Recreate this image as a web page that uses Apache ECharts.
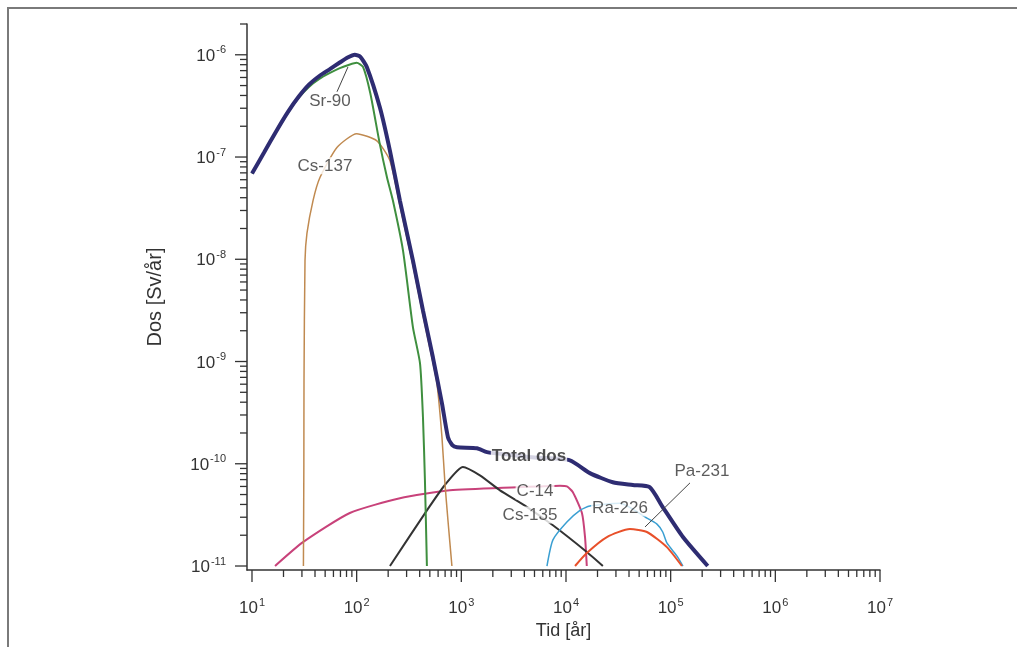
<!DOCTYPE html>
<html>
<head>
<meta charset="utf-8">
<script src="https://cdn.jsdelivr.net/npm/echarts@6/dist/echarts.min.js"></script>
<style>
html,body{margin:0;padding:0;background:#fff;}
#chart{width:1017px;height:647px;}
</style>
</head>
<body>
<div id="chart"></div>
<script>
// ---- Data (time in years, dose in Sv/year) ----
const totalT = [10, 13, 17, 22, 28, 35, 44, 55, 69, 82, 96, 108, 125, 167, 208, 259, 345, 430, 535, 653, 745, 820, 908, 1410, 1760, 3000, 5000, 10900, 16900, 28000, 43500, 63000, 84000, 131000, 226000];
const totalD = [6.9e-8, 1.1e-7, 1.78e-7, 2.75e-7, 3.9e-7, 5.1e-7, 6.2e-7, 7.2e-7, 8.4e-7, 9.4e-7, 1.0e-6, 9.6e-7, 7.6e-7, 3.03e-7, 1.15e-7, 3.75e-8, 9.7e-9, 3.16e-9, 1.1e-9, 3.9e-10, 1.82e-10, 1.52e-10, 1.45e-10, 1.42e-10, 1.3e-10, 1.22e-10, 1.15e-10, 1.08e-10, 8.1e-11, 6.6e-11, 6.2e-11, 5.9e-11, 3.77e-11, 1.92e-11, 1.0e-11];

const sr90T = [10, 13, 17, 22, 28, 35, 44, 55, 69, 85, 100, 115, 135, 165, 195, 222, 277, 345, 403, 430, 449, 469];
const sr90D = [6.9e-8, 1.1e-7, 1.76e-7, 2.7e-7, 3.8e-7, 4.85e-7, 5.8e-7, 6.6e-7, 7.4e-7, 8.0e-7, 8.35e-7, 7.6e-7, 4.2e-7, 1.4e-7, 6.3e-8, 3.75e-8, 1.22e-8, 2.16e-9, 9.6e-10, 2.85e-10, 6.9e-11, 1.0e-11];

const cs137T = [31, 31.3, 31.4, 32.1, 33.5, 38.3, 44.6, 64.8, 100, 156, 208, 259, 345, 430, 535, 585, 653, 697, 745, 813];
const cs137D = [1.0e-11, 1.0e-10, 6.5e-10, 9.7e-9, 1.79e-8, 3.75e-8, 6.3e-8, 1.24e-7, 1.69e-7, 1.44e-7, 9.2e-8, 3.35e-8, 8.7e-9, 2.83e-9, 9.8e-10, 6.1e-10, 1.82e-10, 6.5e-11, 2.8e-11, 1.0e-11];

const c14T = [16.6, 30.7, 86, 259, 778, 3400, 5500, 8750, 10200, 11600, 14200, 15200, 15800];
const c14D = [1.0e-11, 1.71e-11, 3.3e-11, 4.6e-11, 5.5e-11, 5.9e-11, 6.0e-11, 6.1e-11, 6.0e-11, 5.3e-11, 3.3e-11, 1.92e-11, 1.0e-11];

const cs135T = [208, 469, 697, 1035, 1505, 2340, 4050, 7500, 15800, 22500];
const cs135D = [1.0e-11, 3.5e-11, 6.2e-11, 9.3e-11, 7.7e-11, 5.5e-11, 3.9e-11, 2.5e-11, 1.37e-11, 1.0e-11];

const ra226T = [6580, 7500, 10200, 13600, 16900, 32700, 59300, 74000, 84000, 92000, 115000, 131000];
const ra226D = [1.0e-11, 1.8e-11, 2.69e-11, 3.5e-11, 3.86e-11, 4.1e-11, 2.94e-11, 2.57e-11, 2.15e-11, 1.68e-11, 1.25e-11, 1.0e-11];

const pa231T = [12200, 15800, 24600, 40800, 59300, 92000, 128000];
const pa231D = [1.0e-11, 1.34e-11, 1.92e-11, 2.3e-11, 2.15e-11, 1.53e-11, 1.0e-11];

// Series labels: [text, time, dose]
const labelNames = ['Sr-90', 'Cs-137', 'Total dos', 'C-14', 'Cs-135', 'Ra-226', 'Pa-231'];
const labelT = [55.6, 49.8, 4430, 5060, 4530, 32800, 199000];
const labelD = [3.47e-7, 8.2e-8, 1.19e-10, 5.42e-11, 3.15e-11, 3.69e-11, 8.5e-11];

// Leader lines
const sr90LeaderT = [64.9, 82.6];
const sr90LeaderD = [4.35e-7, 7.6e-7];
const pa231LeaderT = [153000, 56900];
const pa231LeaderD = [6.5e-11, 2.41e-11];

// Axes
const X_MIN = 8.96, X_MAX = 1e7;
const Y_MIN = 9.14e-12, Y_MAX = 2e-6;
const xDecades = [10, 100, 1000, 1e4, 1e5, 1e6, 1e7];
const yDecades = [1e-11, 1e-10, 1e-9, 1e-8, 1e-7, 1e-6];
const minorMultipliers = [2, 3, 4, 5, 6, 7, 8, 9];
const xAxisName = 'Tid [år]';
const yAxisName = 'Dos [Sv/år]';

function zip(a, b) { return a.map((v, i) => [v, b[i]]); }

// tick marks (axis decoration)
const xTickData = [];
xDecades.forEach((d, i) => {
  xTickData.push([d, Y_MIN, 12]);
  if (i < xDecades.length - 1) minorMultipliers.forEach(m => xTickData.push([d * m, Y_MIN, 7]));
});
const yTickData = [];
yDecades.forEach((d, i) => {
  yTickData.push([X_MIN, d, 12]);
  if (i < yDecades.length - 1) minorMultipliers.forEach(m => yTickData.push([X_MIN, d * m, 7]));
});
yTickData.push([X_MIN, Y_MAX, 7]);

function powLabel(v) {
  const e = Math.log10(v);
  const r = Math.round(e);
  if (Math.abs(e - r) > 0.01) return '';
  return '{b|10}{s|' + r + '}';
}

const richStyle = {
  b: { fontSize: 17, fontFamily: 'Liberation Sans', color: '#333', verticalAlign: 'bottom' },
  s: { fontSize: 11, fontFamily: 'Liberation Sans', color: '#333', verticalAlign: 'bottom', padding: [0, 0, 9, 1] }
};

function lineSeries(name, t, d, color, width, sm) {
  return {
    name: name, type: 'line', data: zip(t, d), showSymbol: false, symbol: 'none',
    smooth: sm, lineStyle: { color: color, width: width }, z: 3, silent: true
  };
}

const labelData = labelNames.map((n, i) => ({ name: n, value: [labelT[i], labelD[i]] }));
labelData[2].label = { fontWeight: 'bold', color: '#222' };

const chart = echarts.init(document.getElementById('chart'), null, { renderer: 'canvas' });
const option = {
  animation: false,
  backgroundColor: '#fff',
  grid: { left: 247, right: 137, top: 24, bottom: 77, containLabel: false },
  xAxis: {
    type: 'log', logBase: 10, min: X_MIN, max: X_MAX,
    name: xAxisName, nameLocation: 'middle', nameGap: 42,
    nameTextStyle: { fontSize: 18, fontFamily: 'Liberation Sans', color: '#333' },
    axisLine: { show: true, lineStyle: { color: '#333', width: 1.5 } },
    axisTick: { show: false }, splitLine: { show: false }, minorTick: { show: false },
    axisLabel: { margin: 27, formatter: powLabel, rich: richStyle, showMinLabel: true, showMaxLabel: true }
  },
  yAxis: {
    type: 'log', logBase: 10, min: Y_MIN, max: Y_MAX,
    name: yAxisName, nameLocation: 'middle', nameGap: 82, nameRotate: 90,
    nameTextStyle: { fontSize: 20, fontFamily: 'Liberation Sans', color: '#333' },
    axisLine: { show: true, lineStyle: { color: '#333', width: 1.5 } },
    axisTick: { show: false }, splitLine: { show: false }, minorTick: { show: false },
    axisLabel: { margin: 21, formatter: powLabel, rich: richStyle, showMinLabel: true, showMaxLabel: true }
  },
  graphic: [{
    type: 'polyline', silent: true,
    shape: { points: [[8, 647], [8, 8], [1017, 8]] },
    style: { stroke: '#7a7a7a', lineWidth: 2, fill: null }
  }],
  series: [
    lineSeries('C-14', c14T, c14D, '#c8427a', 2, 0.2),
    lineSeries('Cs-135', cs135T, cs135D, '#333333', 2, 0.2),
    lineSeries('Ra-226', ra226T, ra226D, '#3a9fd2', 1.5, 0.2),
    lineSeries('Pa-231', pa231T, pa231D, '#e8502a', 2, 0.2),
    lineSeries('Cs-137', cs137T, cs137D, '#c08a50', 1.5, 0.2),
    lineSeries('Sr-90', sr90T, sr90D, '#3f8f3f', 2, 0.2),
    lineSeries('Total dos', totalT, totalD, '#2e2c72', 4, 0.2),
    {
      type: 'line', data: zip(sr90LeaderT, sr90LeaderD), symbol: 'none', silent: true,
      lineStyle: { color: '#444', width: 1 }, z: 4
    },
    {
      type: 'line', data: zip(pa231LeaderT, pa231LeaderD), symbol: 'none', silent: true,
      lineStyle: { color: '#444', width: 1 }, z: 4
    },
    {
      type: 'scatter', silent: true, z: 10, symbolSize: 2,
      itemStyle: { color: 'rgba(255,255,255,0)' },
      data: labelData,
      label: {
        show: true, position: 'inside', formatter: p => p.name,
        fontSize: 17, fontFamily: 'Liberation Sans', color: '#333',
        backgroundColor: '#fff', padding: [0, 1]
      }
    },
    {
      type: 'custom', silent: true, clip: false, z: 5,
      data: xTickData,
      renderItem: (params, api) => {
        const p = api.coord([api.value(0), api.value(1)]);
        const len = api.value(2);
        return { type: 'line', shape: { x1: p[0], y1: p[1], x2: p[0], y2: p[1] + len }, style: { stroke: '#333', lineWidth: 1.3 } };
      }
    },
    {
      type: 'custom', silent: true, clip: false, z: 5,
      data: yTickData,
      renderItem: (params, api) => {
        const p = api.coord([api.value(0), api.value(1)]);
        const len = api.value(2);
        return { type: 'line', shape: { x1: p[0] - len, y1: p[1], x2: p[0], y2: p[1] }, style: { stroke: '#333', lineWidth: 1.3 } };
      }
    }
  ]
};
chart.setOption(option);
</script>
</body>
</html>
